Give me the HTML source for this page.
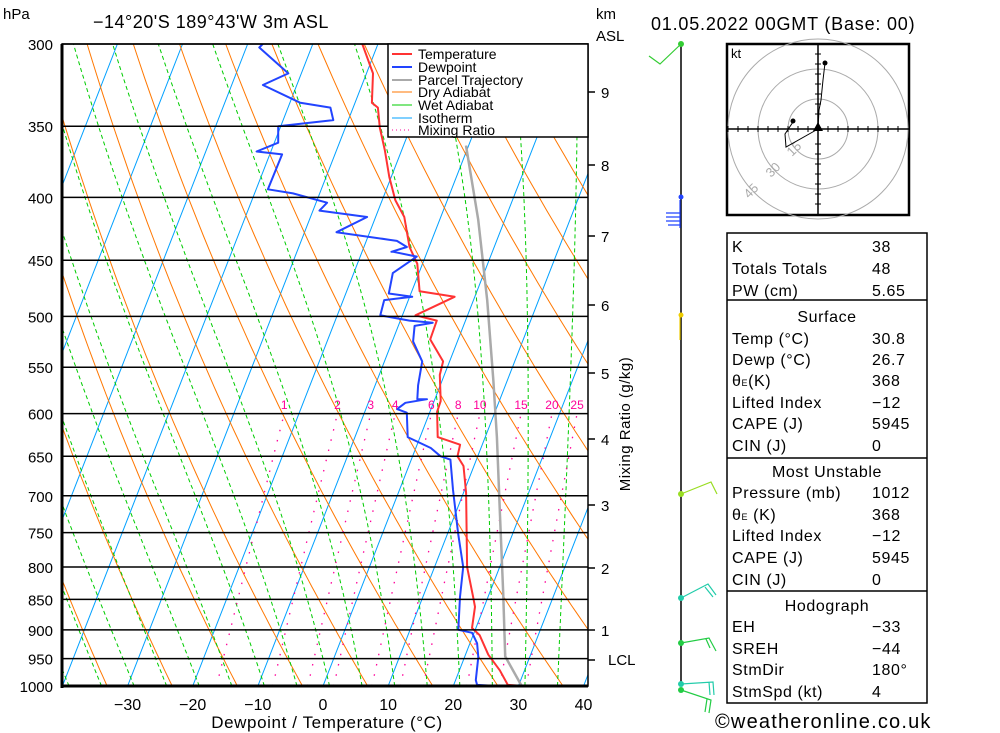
<!DOCTYPE html>
<html><head><meta charset="utf-8">
<style>
body{margin:0;background:#fff;}
svg{display:block;font-family:"Liberation Sans",sans-serif;}
</style></head>
<body>
<svg id="chart" width="1000" height="733" viewBox="0 0 1000 733" xmlns="http://www.w3.org/2000/svg">
<defs><clipPath id="plotclip"><rect x="62" y="44" width="526" height="642"/></clipPath></defs>
<g id="bg" clip-path="url(#plotclip)"></g>
<g id="prof" clip-path="url(#plotclip)"></g>
<g id="axes"></g>
</svg>
<script>
// ---- data ----
const tempP = [300,317,335,338,351,366,385,402,415,439,453,477,482,499,504,522,544,558,586,598,627,636,650,662,696,800,846,862,897,909,943,971,998,1000];
const tempT = [-32.4,-29.0,-27.4,-26.2,-24.7,-22.6,-20.3,-18.0,-15.6,-13.0,-10.8,-8.8,-3.1,-8.0,-4.4,-4.3,-1.0,-0.7,1.0,1.1,2.7,6.6,6.9,8.4,10.4,15.0,17.7,18.6,19.4,21.0,23.5,26.2,28.3,30.8];
const dewP = [300,302,317,324,335,338,346,350,361,367,369,394,397,404,410,415,427,433,434,439,443,443,447,461,479,482,485,499,504,506,509,524,544,569,584,584,588,595,599,627,640,650,654,692,751,800,846,900,905,923,947,989,998,1000];
const dewT = [-47.7,-48.0,-42.0,-45.2,-38.4,-33.5,-32.3,-40.4,-39.4,-42.2,-38.1,-38.2,-34.1,-28.3,-29.0,-21.3,-25.1,-16.6,-15.3,-13.4,-15.5,-15.2,-11.3,-14.0,-13.4,-9.6,-13.7,-13.4,-8.6,-4.9,-7.5,-6.8,-4.2,-3.4,-2.7,-1.2,-4.3,-5.2,-3.5,-1.9,2.3,4.3,6.0,8.2,11.6,14.4,15.7,17.4,19.7,21.1,22.1,23.1,23.6,26.7];
const parcelP = [1000,946,840,723,627,563,485,417,363];
const parcelT = [30.5,26.2,22.1,16.8,11.8,7.8,2.1,-4.1,-10.4];
const pressureTicks = [300,350,400,450,500,550,600,650,700,750,800,850,900,950,1000];
const tempTicks = [-30,-20,-10,0,10,20,30,40];
const kmLabels = ["9","8","7","6","5","4","3","2","1"];
const kmY = [92,165,236,305,373,439,505,568,630];
const mixRatios = [1,2,3,4,6,8,10,15,20,25];
const mixLabels = ["1","2","3","4","6","8","10","15","20","25"];

// ---- axis functions ----
const NS="http://www.w3.org/2000/svg";
function yP(p){return 44+Math.log(p/300)/Math.log(1000/300)*642;}
function xT(t,p){return 323+6.514*t+0.39*(686-yP(p));}
function el(tag,attrs,parent,txt){const e=document.createElementNS(NS,tag);for(const k in attrs)e.setAttribute(k,attrs[k]);if(txt!==undefined)e.textContent=txt;parent.appendChild(e);return e;}
const bg=document.getElementById('bg'),prof=document.getElementById('prof'),axes=document.getElementById('axes');
function mixT(w,p){const e=w*p/(622+w);return 243.5*Math.log(e/6.112)/(17.67-Math.log(e/6.112))+0.7+0.085*w;}

// isotherms
for(let t=-120;t<=40;t+=10){
  const l=el('line',{x1:xT(t,1000),y1:yP(1000),x2:xT(t,300),y2:yP(300),stroke:'#00a0ff','stroke-width':1},bg);
  
  
}
// dry adiabats
for(let th=240;th<=470;th+=10){
  let d='';
  for(let p=1000;p>=300;p-=10){const t=th*Math.pow(p/1000,0.2857)-273.15;d+=(d?'L':'M')+xT(t,p).toFixed(1)+','+yP(p).toFixed(1);}
  const pa=el('path',{d:d,fill:'none',stroke:'#ff7700','stroke-width':1},bg);
  
  
}
// wet adiabats
function es(t){return 6.112*Math.exp(17.67*t/(t+243.5));}
for(let t0=-39;t0<=41;t0+=5){
  let t=t0+273.15,d='';
  for(let p=1000;p>=300;p-=5){
    d+=(d?'L':'M')+xT(t-273.15,p).toFixed(1)+','+yP(p).toFixed(1);
    const rs=0.622*es(t-273.15)/(p-es(t-273.15));
    const dTdp=(287*t+2.5e6*rs)/(p*(1005+2.5e6*2.5e6*rs*0.622/(287*t*t)));
    t-=dTdp*5;
  }
  const pa=el('path',{d:d,fill:'none',stroke:'#00cc00','stroke-width':1,'stroke-dasharray':'4,3'},bg);
  
  
}
// mixing ratio
mixRatios.forEach((w,i)=>{
  let d='';
  for(let p=1000;p>=600;p-=10){d+=(d?'L':'M')+xT(mixT(w,p),p).toFixed(1)+','+yP(p).toFixed(1);}
  const pa=el('path',{d:d,fill:'none',stroke:'#ff0099','stroke-width':1.3,'stroke-dasharray':'1.5,9'},bg);
  
  
  const tx=el('text',{x:xT(mixT(w,600),600),y:409,'font-size':12,fill:'#ff0099','text-anchor':'middle'},axes,mixLabels[i]);
  
  
});
// isobars
pressureTicks.forEach(p=>{
  const l=el('line',{x1:62,y1:yP(p),x2:588,y2:yP(p),stroke:'#000','stroke-width':1.5},axes);
  
  
  const tx=el('text',{x:53,y:yP(p)+6,'font-size':15,'text-anchor':'end'},axes,String(p));
  
  
});
// profiles
function poly(P,T,color,w,name){
  const pts=P.map((p,i)=>xT(T[i],p).toFixed(1)+','+yP(p).toFixed(1)).join(' ');
  const pl=el('polyline',{points:pts,fill:'none',stroke:color,'stroke-width':w,'stroke-linejoin':'round'},prof);
  
  
}
poly(parcelP,parcelT,'#aaaaaa',2.5,'parcel-trajectory');
poly(tempP,tempT,'#ff3333',2,'temperature-line');
poly(dewP,dewT,'#2244ff',2,'dewpoint-line');
// frame
el('path',{d:'M62,44V686H588V44Z',fill:'none',stroke:'#000','stroke-width':1.5},axes);
el('line',{x1:62,y1:44,x2:62,y2:688,stroke:'#000','stroke-width':3},axes);
el('line',{x1:62,y1:686,x2:588,y2:686,stroke:'#000','stroke-width':3},axes);
tempTicks.forEach(t=>{
  const tx=el('text',{x:323+6.514*t,y:710,'font-size':16,'text-anchor':'middle'},axes,t<0?'\u2212'+(-t):String(t));
  
  
});
kmLabels.forEach((k,i)=>{
  el('line',{x1:588,y1:kmY[i],x2:595,y2:kmY[i],stroke:'#000','stroke-width':1.5},axes);
  const tx=el('text',{x:601,y:kmY[i]+6,'font-size':15},axes,k);
  
  
});
el('line',{x1:588,y1:660,x2:595,y2:660,stroke:'#000','stroke-width':1.5},axes);
</script>
<svg width="1000" height="733" style="position:absolute;left:0;top:0" font-family="Liberation Sans, sans-serif">
<text x="3" y="19" font-size="15">hPa</text>
<text x="93" y="28" font-size="18" letter-spacing="0.5">−14°20'S  189°43'W  3m  ASL</text>
<text x="596" y="19" font-size="15">km</text>
<text x="596" y="41" font-size="15">ASL</text>
<text x="651" y="30" font-size="18" letter-spacing="0.8">01.05.2022  00GMT  (Base: 00)</text>
<text x="608" y="665" font-size="15">LCL</text>
<text x="327" y="728" font-size="17" text-anchor="middle" letter-spacing="0.6">Dewpoint / Temperature (°C)</text>
<text transform="translate(630,424) rotate(-90)" font-size="15" text-anchor="middle" letter-spacing="0.5">Mixing Ratio (g/kg)</text>
<g font-size="14">
<rect x="388" y="44" width="200" height="93" fill="#fff" stroke="#000" stroke-width="1.5"/>
<line x1="392" y1="54" x2="412" y2="54" stroke="#ff3333" stroke-width="2"/><text x="418" y="59">Temperature</text>
<line x1="392" y1="67" x2="412" y2="67" stroke="#2244ff" stroke-width="2"/><text x="418" y="72">Dewpoint</text>
<line x1="392" y1="80" x2="412" y2="80" stroke="#aaaaaa" stroke-width="2"/><text x="418" y="85">Parcel Trajectory</text>
<line x1="392" y1="92" x2="412" y2="92" stroke="#ff7700"/><text x="418" y="97">Dry Adiabat</text>
<line x1="392" y1="105" x2="412" y2="105" stroke="#00cc00"/><text x="418" y="110">Wet Adiabat</text>
<line x1="392" y1="118" x2="412" y2="118" stroke="#00a0ff"/><text x="418" y="123">Isotherm</text>
<line x1="392" y1="130" x2="412" y2="130" stroke="#ff0099" stroke-dasharray="1,3"/><text x="418" y="135">Mixing Ratio</text>
</g>
<g fill="none" stroke-width="1.2">
<line x1="681" y1="44" x2="681" y2="686" stroke="#000" stroke-width="1.5"/>
<polyline points="681,44 660,64 649,56" stroke="#33cc33"/><circle cx="681" cy="44" r="3" fill="#33cc33"/>
<circle cx="681" cy="197" r="2.5" fill="#2244ff" stroke="none"/>
<path d="M680,200V228M666,213H680M666,217H680M666,221H680M668,225H680" stroke="#2244ff"/>
<circle cx="681" cy="315" r="2.5" fill="#eecc00" stroke="none"/><line x1="680" y1="315" x2="680" y2="340" stroke="#eecc00"/>
<polyline points="681,494 711,482 717,494" stroke="#99dd22"/><circle cx="681" cy="494" r="3" fill="#99dd22" stroke="none"/>
<path d="M681,598L708,584L716,595M705,587L713,597" stroke="#22ccaa"/><circle cx="681" cy="598" r="3" fill="#22ccaa" stroke="none"/>
<path d="M681,643L709,638L716,651M706,639L710,648" stroke="#22cc44"/><circle cx="681" cy="643" r="3" fill="#22cc44" stroke="none"/>
<path d="M681,684L713,682L714,695M709,682L710,695" stroke="#22ccaa"/><circle cx="681" cy="684" r="3" fill="#22ccaa" stroke="none"/>
<path d="M681,690L711,700L709,713M707,699L705,712" stroke="#22cc44"/><circle cx="681" cy="690" r="3" fill="#22cc44" stroke="none"/>
</g>
<g>
<rect x="727" y="44" width="182" height="171" fill="#fff" stroke="#000" stroke-width="2.5"/>
<circle cx="818" cy="129" r="30" fill="none" stroke="#aaa"/>
<circle cx="818" cy="129" r="60" fill="none" stroke="#aaa"/>
<circle cx="818" cy="129" r="90" fill="none" stroke="#aaa"/>
<line x1="727" y1="129" x2="909" y2="129" stroke="#000" stroke-width="1.5"/>
<line x1="818" y1="44" x2="818" y2="215" stroke="#000" stroke-width="1.5"/>
<path d="M728,126V132M738,126V132M748,126V132M758,126V132M768,126V132M778,126V132M788,126V132M798,126V132M808,126V132M828,126V132M838,126V132M848,126V132M858,126V132M868,126V132M878,126V132M888,126V132M898,126V132M815,54H821M815,64H821M815,74H821M815,84H821M815,94H821M815,104H821M815,114H821M815,144H821M815,154H821M815,164H821M815,174H821M815,184H821M815,194H821M815,204H821" stroke="#000"/>
<text x="731" y="58" font-size="13">kt</text>
<text transform="translate(792,157) rotate(-45)" font-size="13" fill="#aaa">15</text>
<text transform="translate(771,178) rotate(-45)" font-size="13" fill="#aaa">30</text>
<text transform="translate(749,199) rotate(-45)" font-size="13" fill="#aaa">45</text>
<polyline points="818,129 819,110 821,100 823,80 825,63" fill="none" stroke="#000"/>
<circle cx="825" cy="63" r="2.5"/>
<polyline points="818,129 786,147 785,134 793,122" fill="none" stroke="#000"/>
<circle cx="793" cy="121" r="2.5"/>
<polygon points="818,122 813,131 823,131" fill="#000"/>
</g>
<g font-size="16" letter-spacing="0.6">
<rect x="727" y="233" width="200" height="470" fill="none" stroke="#000" stroke-width="1.5"/>
<line x1="727" y1="300" x2="927" y2="300" stroke="#000" stroke-width="1.5"/>
<line x1="727" y1="458" x2="927" y2="458" stroke="#000" stroke-width="1.5"/>
<line x1="727" y1="591" x2="927" y2="591" stroke="#000" stroke-width="1.5"/>
<text x="732" y="252">K</text><text x="872" y="252">38</text>
<text x="732" y="274">Totals Totals</text><text x="872" y="274">48</text>
<text x="732" y="296">PW (cm)</text><text x="872" y="296">5.65</text>
<text x="827" y="322" text-anchor="middle">Surface</text>
<text x="732" y="344">Temp (°C)</text><text x="872" y="344">30.8</text>
<text x="732" y="365">Dewp (°C)</text><text x="872" y="365">26.7</text>
<text x="732" y="386">θ<tspan font-size="9">E</tspan>(K)</text><text x="872" y="386">368</text>
<text x="732" y="408">Lifted Index</text><text x="872" y="408">−12</text>
<text x="732" y="429">CAPE (J)</text><text x="872" y="429">5945</text>
<text x="732" y="451">CIN (J)</text><text x="872" y="451">0</text>
<text x="827" y="477" text-anchor="middle">Most Unstable</text>
<text x="732" y="498">Pressure (mb)</text><text x="872" y="498">1012</text>
<text x="732" y="520">θ<tspan font-size="9">E</tspan> (K)</text><text x="872" y="520">368</text>
<text x="732" y="541">Lifted Index</text><text x="872" y="541">−12</text>
<text x="732" y="563">CAPE (J)</text><text x="872" y="563">5945</text>
<text x="732" y="585">CIN (J)</text><text x="872" y="585">0</text>
<text x="827" y="611" text-anchor="middle">Hodograph</text>
<text x="732" y="632">EH</text><text x="872" y="632">−33</text>
<text x="732" y="654">SREH</text><text x="872" y="654">−44</text>
<text x="732" y="675">StmDir</text><text x="872" y="675">180°</text>
<text x="732" y="697">StmSpd (kt)</text><text x="872" y="697">4</text>
</g>
<text x="715" y="728" font-size="20" letter-spacing="1.2">©weatheronline.co.uk</text>
</svg>
</body></html>
